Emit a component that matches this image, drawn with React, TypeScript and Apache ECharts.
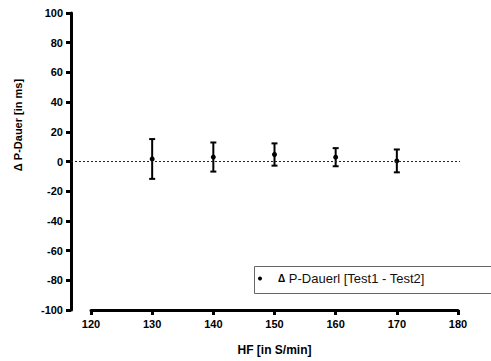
import React, { useEffect, useRef } from "react";
import * as echarts from "echarts";

const hfValues = [130, 140, 150, 160, 170];
const meanDiff = [1.7, 3.0, 4.7, 2.9, 0.4];
const sdDiff = [13.4, 9.8, 7.5, 6.1, 7.7];
const xMin = 120;
const xMax = 180;
const xStep = 10;
const yMin = -100;
const yMax = 100;
const yStep = 20;
const referenceValue = 0;
const seriesName = "Δ P-Dauerl [Test1 - Test2]";
const xTitle = "HF [in S/min]";
const yTitle = "Δ P-Dauer [in ms]";

const FONT = "'Liberation Sans', Arial, sans-serif";

export default function App() {
  const ref = useRef<HTMLDivElement>(null);
  useEffect(() => {
    if (!ref.current) return;
    const chart = echarts.init(ref.current, undefined, { renderer: "svg" });
    const data = hfValues.map((x, i) => [x, meanDiff[i], sdDiff[i]]);
    const axisLine = { show: true, onZero: false, lineStyle: { color: "#000", width: 3 } };
    const axisTick = { show: true, length: 5, lineStyle: { color: "#000", width: 3 } };
    const labelStyle = {
      fontFamily: FONT,
      fontWeight: "bold" as const,
      fontSize: 11,
      color: "#000",
    };
    chart.setOption({
      animation: false,
      backgroundColor: "#fff",
      grid: [
        { left: 91, right: 33, top: 13, bottom: 51 },
        { left: 71, right: 31, top: 13, bottom: 51 },
      ],
      xAxis: [
        {
          type: "value",
          gridIndex: 0,
          min: xMin,
          max: xMax,
          interval: xStep,
          axisLine,
          axisTick,
          splitLine: { show: false },
          axisLabel: { ...labelStyle, margin: 8 },
          name: xTitle,
          nameLocation: "middle",
          nameGap: 34,
          nameTextStyle: { ...labelStyle, fontSize: 12 },
        },
        {
          type: "value",
          gridIndex: 1,
          min: 0,
          max: 1,
          show: false,
        },
      ],
      yAxis: [
        {
          type: "value",
          gridIndex: 0,
          min: yMin,
          max: yMax,
          interval: yStep,
          show: false,
        },
        {
          type: "value",
          gridIndex: 1,
          min: yMin,
          max: yMax,
          interval: yStep,
          axisLine,
          axisTick,
          splitLine: { show: false },
          axisLabel: { ...labelStyle, margin: 8 },
        },
      ],
      legend: {
        left: 254,
        top: 266,
        padding: [6, 10, 6, 4],
        borderWidth: 0,
        itemWidth: 10,
        itemHeight: 4,
        data: [{ name: seriesName, icon: "circle" }],
        formatter: () => "{d|Δ} P-Dauerl [Test1 - Test2]",
        textStyle: {
          fontFamily: FONT,
          fontSize: 13,
          color: "#111",
          padding: [0, 0, 0, 8],
          rich: {
            d: { fontFamily: FONT, fontSize: 10, fontWeight: "bold", color: "#000" },
          },
        },
      },
      graphic: [
        {
          type: "polyline",
          silent: true,
          shape: {
            points: [
              [520, 266.5],
              [254.5, 266.5],
              [254.5, 293.5],
              [520, 293.5],
            ],
          },
          style: { fill: "none", stroke: "#666", lineWidth: 1 },
          z: 0,
        },
        {
          type: "text",
          x: 18,
          y: 125,
          rotation: Math.PI / 2,
          style: {
            text: yTitle,
            font: `bold 11px ${FONT}`,
            fill: "#000",
            textAlign: "center",
            textVerticalAlign: "middle",
          },
        },
      ],
      series: [
        {
          type: "line",
          xAxisIndex: 1,
          yAxisIndex: 1,
          data: [],
          silent: true,
          markLine: {
            silent: true,
            symbol: "none",
            label: { show: false },
            lineStyle: { color: "#222", width: 1, type: [2, 2] },
            data: [{ yAxis: referenceValue }],
          },
        },
        {
          type: "custom",
          name: seriesName,
          xAxisIndex: 0,
          yAxisIndex: 0,
          itemStyle: { color: "#000" },
          data,
          renderItem: (params: any, api: any) => {
            const x = api.value(0);
            const m = api.value(1);
            const s = api.value(2);
            const c = api.coord([x, m]);
            const top = api.coord([x, m + s]);
            const bot = api.coord([x, m - s]);
            const cap = 3;
            const ls = { stroke: "#000", lineWidth: 2 };
            return {
              type: "group",
              children: [
                { type: "line", shape: { x1: top[0], y1: top[1], x2: bot[0], y2: bot[1] }, style: ls },
                { type: "line", shape: { x1: top[0] - cap, y1: top[1], x2: top[0] + cap, y2: top[1] }, style: ls },
                { type: "line", shape: { x1: bot[0] - cap, y1: bot[1], x2: bot[0] + cap, y2: bot[1] }, style: ls },
                { type: "circle", shape: { cx: c[0], cy: c[1], r: 2.5 }, style: { fill: "#000" } },
              ],
            };
          },
        },
      ],
    });
    return () => chart.dispose();
  }, []);
  return (
    <div
      ref={ref}
      style={{ position: "absolute", left: 0, top: 0, width: 491, height: 361 }}
    />
  );
}
